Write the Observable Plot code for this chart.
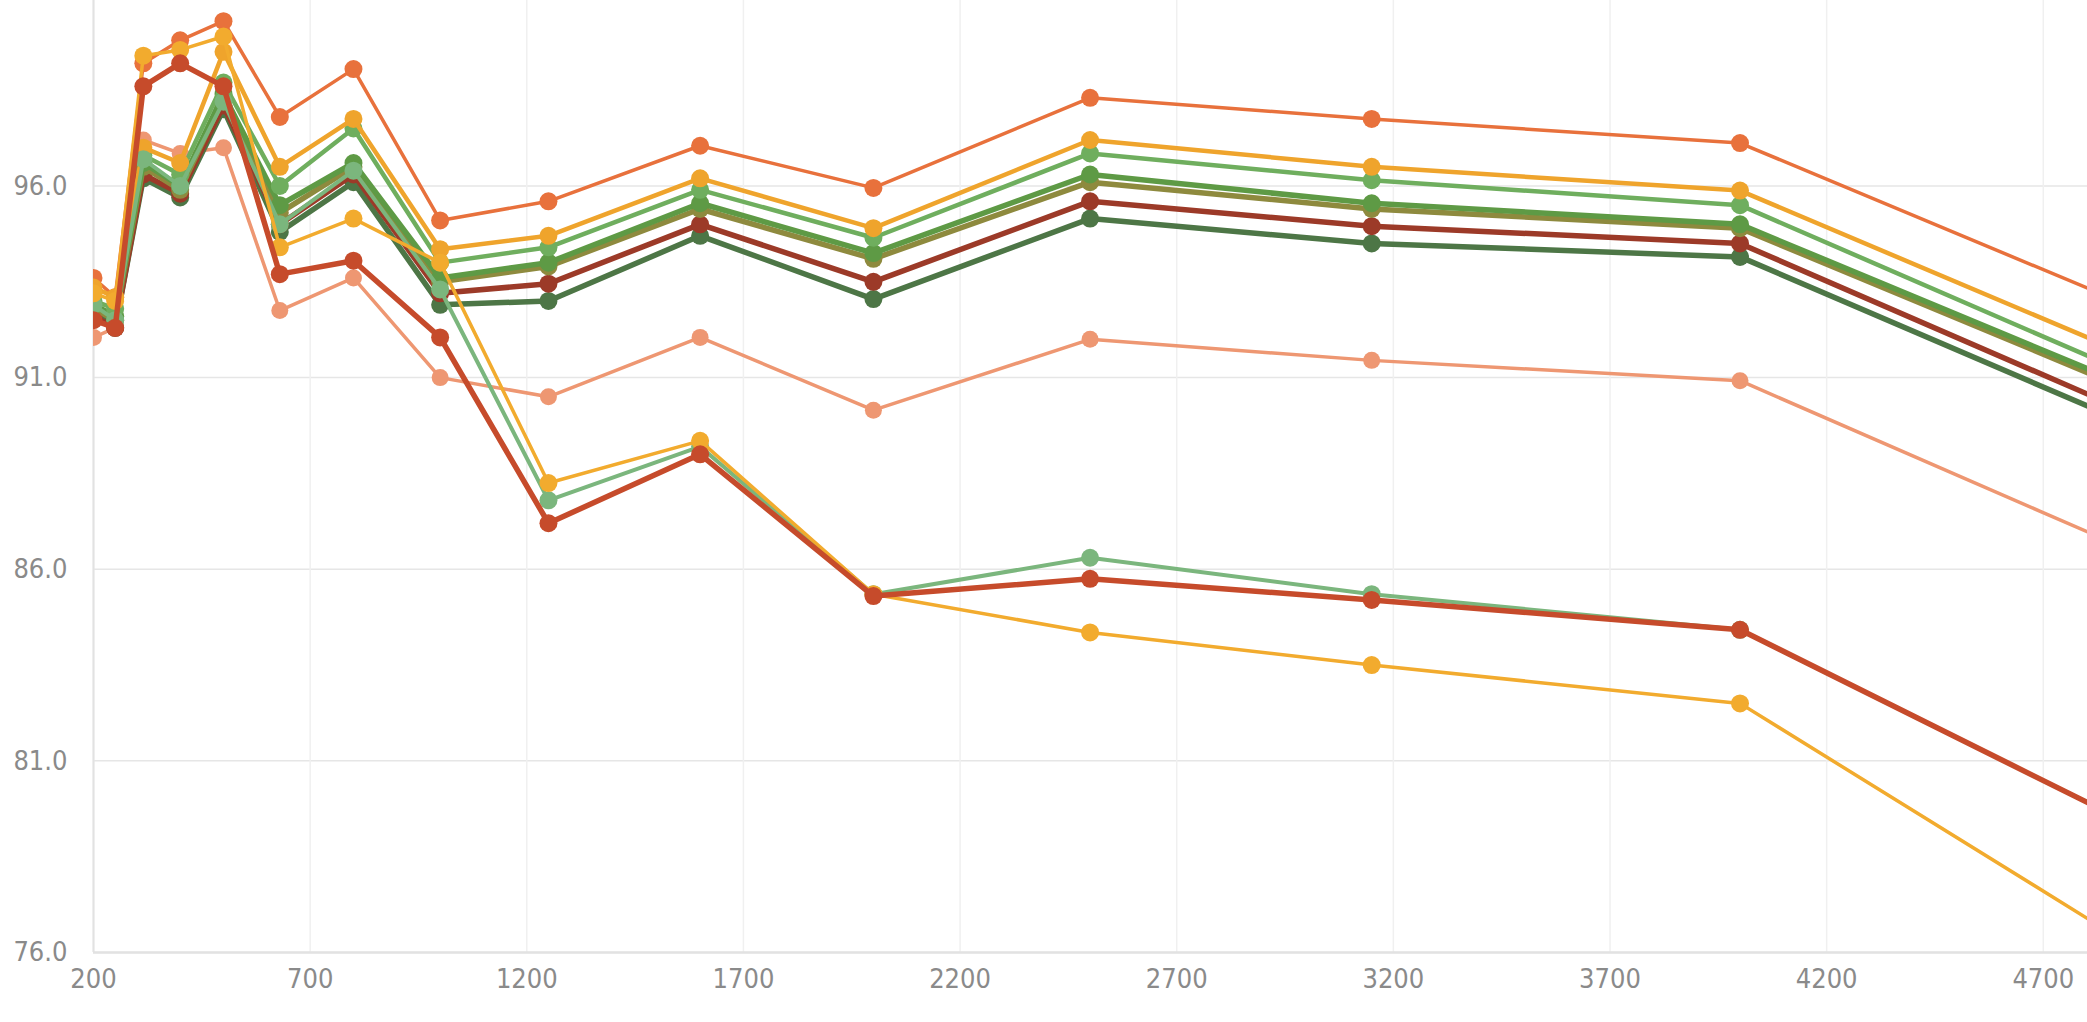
<!DOCTYPE html>
<html>
<head>
<meta charset="utf-8">
<script src="https://cdn.jsdelivr.net/npm/d3@7"></script>
<script src="https://cdn.jsdelivr.net/npm/@observablehq/plot@0.6"></script>
<style>
  html, body { margin: 0; padding: 0; background: #ffffff; }
  #chart { width: 2087px; height: 1022px; overflow: hidden; }
</style>
</head>
<body>
<div id="chart"></div>
<script>
// Frequencies (x values)
const freqs = [200, 250, 315, 400, 500, 630, 800, 1000, 1250, 1600, 2000, 2500, 3150, 4000, 5000];

// Series values
const salmonS     = [92.05, 92.3, 97.2, 96.85, 97.0, 92.75, 93.6, 91.0, 90.5, 92.05, 90.15, 92.0, 91.45, 90.92, 86.0];
const orangeS     = [93.6, 93.1, 99.2, 99.8, 100.3, 97.8, 99.05, 95.1, 95.6, 97.05, 95.95, 98.3, 97.75, 97.12, 92.4];
const darkGreenS  = [92.7, 92.3, 96.2, 95.7, 98.0, 94.8, 96.1, 92.9, 93.0, 94.7, 93.05, 95.15, 94.5, 94.15, 89.3];
const darkRedS    = [92.6, 92.3, 96.3, 95.8, 98.1, 95.0, 96.3, 93.2, 93.45, 95.0, 93.5, 95.6, 94.95, 94.5, 89.6];
const oliveS      = [92.8, 92.5, 96.5, 95.9, 98.3, 95.3, 96.5, 93.5, 93.9, 95.4, 94.1, 96.1, 95.4, 94.9, 90.2];
const greenS      = [92.9, 92.6, 96.6, 96.0, 98.4, 95.5, 96.6, 93.6, 94.0, 95.55, 94.25, 96.3, 95.55, 95.0, 90.3];
const lightGreenS = [93.0, 92.8, 96.8, 96.3, 98.7, 96.0, 97.5, 94.0, 94.4, 95.9, 94.65, 96.85, 96.15, 95.5, 90.6];
const goldS       = [93.35, 93.1, 97.0, 96.6, 99.5, 96.5, 97.75, 94.35, 94.7, 96.2, 94.9, 97.2, 96.5, 95.88, 91.1];
const lowGreenS   = [92.9, 92.5, 96.7, 96.0, 98.2, 95.0, 96.4, 93.3, 87.8, 89.2, 85.35, 86.3, 85.35, 84.42, 78.8];
const lowGoldS    = [93.2, 93.0, 99.4, 99.55, 99.9, 94.4, 95.15, 94.0, 88.25, 89.35, 85.35, 84.35, 83.5, 82.5, 75.5];
const lowRedS     = [92.5, 92.3, 98.6, 99.2, 98.6, 93.7, 94.05, 92.05, 87.2, 89.0, 85.3, 85.75, 85.2, 84.42, 78.8];

// Tick values
const xTicks = [200, 700, 1200, 1700, 2200, 2700, 3200, 3700, 4200, 4700];
const yTicks = [76, 81, 86, 91, 96];

// Series list (drawing order), styles kept separate from data
const seriesList = [
  {name: "salmon",     values: salmonS},
  {name: "orange",     values: orangeS},
  {name: "darkGreen",  values: darkGreenS},
  {name: "darkRed",    values: darkRedS},
  {name: "olive",      values: oliveS},
  {name: "green",      values: greenS},
  {name: "lightGreen", values: lightGreenS},
  {name: "gold",       values: goldS},
  {name: "lowGreen",   values: lowGreenS},
  {name: "lowGold",    values: lowGoldS},
  {name: "lowRed",     values: lowRedS}
];
const styles = {
  salmon:     {color: "#EE9772", width: 3.5, r: 8.5},
  orange:     {color: "#E8713C", width: 3.5, r: 9},
  darkGreen:  {color: "#4D7646", width: 5.5, r: 9},
  darkRed:    {color: "#9C3A28", width: 5.5, r: 9},
  olive:      {color: "#8E8A3E", width: 5.5, r: 9},
  green:      {color: "#5E9A45", width: 5.5, r: 9},
  lightGreen: {color: "#6FAE5E", width: 4.5, r: 9},
  gold:       {color: "#EFA42C", width: 4.5, r: 9},
  lowGreen:   {color: "#7BB67D", width: 4,   r: 9},
  lowGold:    {color: "#F2AB2E", width: 3.5, r: 9},
  lowRed:     {color: "#C64B2B", width: 5.5, r: 9}
};

const marks = [
  Plot.gridY(yTicks, {stroke: "#e6e6e6", strokeOpacity: 1, strokeWidth: 1.5}),
  Plot.gridX(xTicks, {stroke: "#f0f0f0", strokeOpacity: 1, strokeWidth: 1.5}),
  Plot.ruleX([200], {stroke: "#e2e2e2", strokeWidth: 2}),
  Plot.ruleY([76], {stroke: "#e2e2e2", strokeWidth: 2.5}),
  Plot.axisY(yTicks, {tickSize: 0, tickPadding: 26, tickFormat: d3.format(".1f"), color: "#8a8a8a", fontSize: 27, label: null}),
  Plot.axisX(xTicks, {tickSize: 0, tickPadding: 16, tickFormat: d => String(d), color: "#8a8a8a", fontSize: 27, label: null})
];

for (const s of seriesList) {
  const st = styles[s.name];
  const rows = freqs.map((f, i) => ({x: f, y: s.values[i]}));
  marks.push(Plot.line(rows, {x: "x", y: "y", stroke: st.color, strokeWidth: st.width, clip: true}));
  marks.push(Plot.dot(rows, {x: "x", y: "y", fill: st.color, r: st.r, stroke: "none", clip: true}));
}

const chart = Plot.plot({
  width: 2087,
  height: 1022,
  marginLeft: 93,
  marginRight: 0,
  marginTop: 0,
  marginBottom: 70,
  x: {type: "linear", domain: [200, 4802]},
  y: {type: "linear", domain: [76, 100.84]},
  style: {fontFamily: "'DejaVu Sans Condensed', 'Liberation Sans Narrow', sans-serif", background: "#ffffff"},
  marks
});
document.getElementById("chart").appendChild(chart);
</script>
</body>
</html>
